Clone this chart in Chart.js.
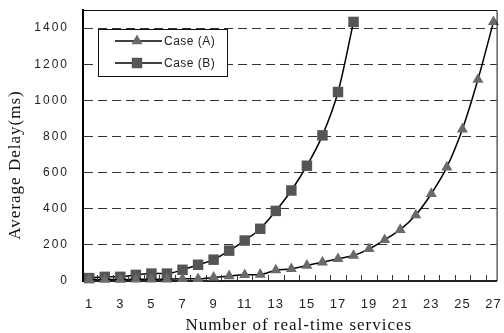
<!DOCTYPE html>
<html>
<head>
<meta charset="utf-8">
<script src="https://cdn.jsdelivr.net/npm/chart.js"></script>
<style>
  html, body { margin: 0; padding: 0; background: #ffffff; }
  #wrap { width: 504px; height: 333px; }
</style>
</head>
<body>
<div id="wrap"><canvas id="c" width="504" height="333"></canvas></div>
<script>
// Number of real-time services on the x axis
const services = [1, 2, 3, 4, 5, 6, 7, 8, 9, 10, 11, 12, 13, 14, 15, 16, 17, 18, 19, 20, 21, 22, 23, 24, 25, 26, 27];

// Average delay (ms) for each case
const caseA = [8, 8, 8, 9, 9, 10, 12, 12, 20, 28, 34, 36, 60, 67, 86, 104, 123, 141, 178, 228, 284, 365, 483, 630, 840, 1115, 1434];
const caseB = [16, 23, 23, 34, 41, 41, 62, 90, 118, 168, 224, 289, 388, 501, 638, 806, 1046, 1434];

const seriesNames = ['Case (A)', 'Case (B)'];
const xTickValues = [1, 3, 5, 7, 9, 11, 13, 15, 17, 19, 21, 23, 25, 27];
const yTickValues = [0, 200, 400, 600, 800, 1000, 1200, 1400];

const xTitle = 'Number of real-time services';
const yTitle = 'Average Delay(ms)';

const toPoints = values => values.map((v, i) => ({ x: services[i], y: v }));

const SANS = '"Liberation Sans", Arial, sans-serif';
const SERIF = '"Liberation Serif", "Times New Roman", serif';

// keep the plot box fixed: no label overhang padding
function fixBox(size) {
  return s => {
    if (s.isHorizontal()) s.height = size; else s.width = size;
    s.paddingTop = 0;
    s.paddingBottom = 0;
    s.paddingLeft = 0;
    s.paddingRight = 0;
  };
}

// Wide-spaced tick labels, frame, inner ticks, axis titles and boxed legend
const paperStyle = {
  id: 'paperStyle',
  afterLayout(chart) {
    const spacing = { x: '1px', y: '2px' };
    for (const id of ['x', 'y']) {
      const s = chart.scales[id];
      if (s && !s._spaced) {
        const orig = s.drawLabels.bind(s);
        s.drawLabels = function (area) {
          this.ctx.save();
          this.ctx.letterSpacing = spacing[id];
          orig(area);
          this.ctx.restore();
        };
        s._spaced = true;
      }
    }
  },
  afterDraw(chart) {
    const { ctx, chartArea: a, scales: { x } } = chart;
    ctx.save();

    // top and right frame lines
    ctx.strokeStyle = '#111';
    ctx.lineWidth = 1;
    ctx.beginPath();
    ctx.moveTo(a.left, a.top + 0.5);
    ctx.lineTo(a.right + 0.5, a.top + 0.5);
    ctx.lineTo(a.right + 0.5, a.bottom);
    ctx.stroke();

    // short inward ticks between neighbouring categories
    ctx.strokeStyle = '#333';
    ctx.beginPath();
    for (let i = 0; i < services.length - 1; i++) {
      const px = Math.round(x.getPixelForValue((services[i] + services[i + 1]) / 2)) + 0.5;
      ctx.moveTo(px, a.bottom - 1);
      ctx.lineTo(px, a.bottom - 6);
    }
    ctx.stroke();

    // axis titles
    ctx.fillStyle = '#111';
    ctx.font = '17px ' + SERIF;
    ctx.letterSpacing = '1px';
    ctx.textAlign = 'center';
    ctx.textBaseline = 'alphabetic';
    ctx.fillText(xTitle, (a.left + a.right) / 2 + 9, 330);
    ctx.save();
    ctx.translate(20, 165);
    ctx.rotate(-Math.PI / 2);
    ctx.fillText(yTitle, 0, 0);
    ctx.restore();

    // legend box
    const bx = 98.5, by = 29.5, bw = 129, bh = 47;
    ctx.fillStyle = '#ffffff';
    ctx.fillRect(bx, by, bw, bh);
    ctx.strokeStyle = '#111';
    ctx.lineWidth = 1;
    ctx.strokeRect(bx, by, bw, bh);

    const rows = [41, 63];
    chart.data.datasets.forEach((ds, i) => {
      const y = rows[i];
      ctx.strokeStyle = ds.borderColor;
      ctx.lineWidth = ds.borderWidth;
      ctx.beginPath();
      ctx.moveTo(115, y);
      ctx.lineTo(162, y);
      ctx.stroke();
      const cx = 137, r = ds.pointRadius;
      ctx.fillStyle = ds.pointBackgroundColor;
      ctx.beginPath();
      if (ds.pointStyle === 'triangle') {
        ctx.moveTo(cx, y - r);
        ctx.lineTo(cx + r * 0.866, y + r / 2);
        ctx.lineTo(cx - r * 0.866, y + r / 2);
        ctx.closePath();
      } else {
        const h = r * Math.SQRT1_2;
        ctx.rect(cx - h, y - h, 2 * h, 2 * h);
      }
      ctx.fill();
      ctx.fillStyle = '#222';
      ctx.font = '12px ' + SANS;
      ctx.letterSpacing = '0.5px';
      ctx.textAlign = 'left';
      ctx.textBaseline = 'middle';
      ctx.fillText(ds.label, 164, y + 0.5);
    });

    ctx.restore();
  }
};

new Chart(document.getElementById('c'), {
  type: 'line',
  data: {
    datasets: [
      {
        label: seriesNames[0],
        data: toPoints(caseA),
        borderColor: '#000000',
        borderWidth: 1.5,
        pointStyle: 'triangle',
        pointRadius: 6.4,
        pointBackgroundColor: '#6a6a6a',
        pointBorderColor: '#6a6a6a',
        pointBorderWidth: 0,
        cubicInterpolationMode: 'monotone',
        clip: false
      },
      {
        label: seriesNames[1],
        data: toPoints(caseB),
        borderColor: '#000000',
        borderWidth: 1.5,
        pointStyle: 'rect',
        pointRadius: 7.4,
        pointBackgroundColor: '#555555',
        pointBorderColor: '#555555',
        pointBorderWidth: 0,
        cubicInterpolationMode: 'monotone',
        clip: false
      }
    ]
  },
  options: {
    responsive: false,
    animation: false,
    events: [],
    layout: { padding: { top: 10, right: 4, left: 0, bottom: 0 } },
    plugins: {
      legend: { display: false },
      tooltip: { enabled: false }
    },
    scales: {
      x: {
        type: 'linear',
        min: 0.6,
        max: 27.2,
        afterBuildTicks: s => { s.ticks = xTickValues.map(v => ({ value: v })); },
        afterFit: fixBox(52),
        grid: { display: false, drawTicks: false },
        border: { display: true, color: '#222', width: 2 },
        ticks: {
          padding: 16,
          color: '#222',
          font: { family: SANS, size: 13 },
          maxRotation: 0,
          autoSkip: false,
          callback: v => String(v)
        }
      },
      y: {
        type: 'linear',
        min: 0,
        max: 1500,
        afterBuildTicks: s => { s.ticks = yTickValues.map(v => ({ value: v })); },
        afterFit: fixBox(83),
        grid: {
          drawTicks: false,
          color: c => (c.tick && c.tick.value === 0 ? 'rgba(0,0,0,0)' : '#333'),
          lineWidth: 1
        },
        border: { display: true, color: '#000', width: 2, dash: [9, 5] },
        ticks: {
          padding: 14,
          color: '#222',
          font: { family: SANS, size: 12 },
          callback: v => String(v)
        }
      }
    }
  },
  plugins: [paperStyle]
});
</script>
</body>
</html>
